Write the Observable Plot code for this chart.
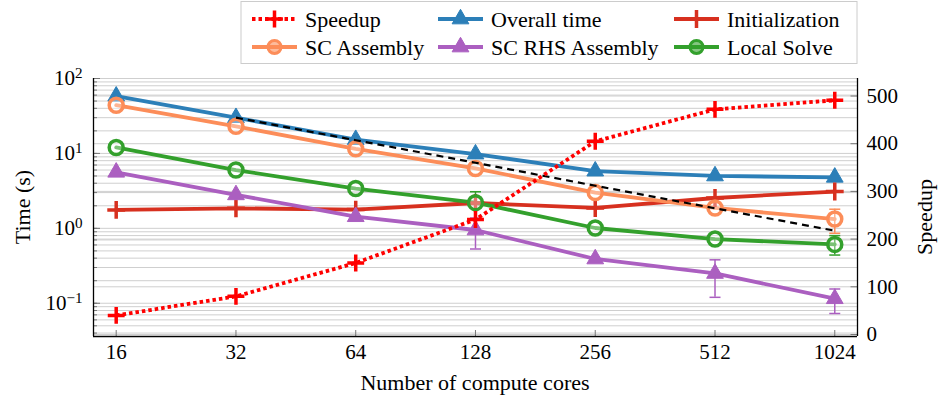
<!DOCTYPE html>
<html><head><meta charset="utf-8">
<script src="https://cdn.jsdelivr.net/npm/d3@7"></script>
<script src="https://cdn.jsdelivr.net/npm/@observablehq/plot@0.6"></script>
<style>body{margin:0;background:#fff} #chart svg, #chart svg text{font-family:"Liberation Serif","Times New Roman",serif !important}</style>
</head><body><div id="chart"></div>
<script>
// ---- data ----
const cores = [16, 32, 64, 128, 256, 512, 1024];
const speedup = [40, 80, 150, 241, 405, 472, 491];
const overallTime = [58, 30, 15.3, 9.8, 5.8, 5.0, 4.8];
const initialization = [1.76, 1.85, 1.78, 2.18, 1.87, 2.54, 3.1];
const scAssembly = [44, 23, 11.5, 6.3, 3.0, 1.87, 1.33];
const scRhsAssembly = [5.6, 2.8, 1.43, 0.95, 0.39, 0.25, 0.115];
const localSolve = [12.0, 6.0, 3.4, 2.2, 1.01, 0.72, 0.61];
const idealCores = [32, 64, 128, 256, 512, 1024];
const idealTime = [30, 15, 7.5, 3.7, 1.85, 0.93];
const errSeries = ["SC Assembly", "SC RHS Assembly", "SC RHS Assembly", "SC RHS Assembly", "Local Solve", "Local Solve"];
const errCores = [1024, 128, 512, 1024, 128, 1024];
const errLow = [0.86, 0.53, 0.12, 0.073, 1.32, 0.44];
const errHigh = [1.8, 1.37, 0.38, 0.155, 3.08, 0.80];
const timeTicks = [0.1, 1, 10, 100];
const timeTickLabels = ["10^-1", "10^0", "10^1", "10^2"];
const speedTicks = [0, 100, 200, 300, 400, 500];
const xDomain = [14.03, 1168];
const yDomain = [0.036, 100];
const speedDomain = [-4.2, 536.7];
const FONT = '"Liberation Serif", "Times New Roman", serif';

const series = [
  {name: "Overall time", values: overallTime, color: "#2c7fb8", symbol: "triangle2", r: 8},
  {name: "Initialization", values: initialization, color: "#d7301f", symbol: "plus", r: 5.8},
  {name: "SC Assembly", values: scAssembly, color: "#fc8d59", symbol: "circle", r: 7},
  {name: "SC RHS Assembly", values: scRhsAssembly, color: "#ab5fc0", symbol: "triangle2", r: 8},
  {name: "Local Solve", values: localSolve, color: "#33a02c", symbol: "circle", r: 7}
];
const colorOf = Object.fromEntries(series.map(s => [s.name, s.color]));

// map speedup (right linear axis) onto the log time scale
const L0 = Math.log10(yDomain[0]), L1 = Math.log10(yDomain[1]);
const toY = s => Math.pow(10, L0 + (s - speedDomain[0]) / (speedDomain[1] - speedDomain[0]) * (L1 - L0));

const speedRows = cores.map((c, i) => ({cores: c, value: toY(speedup[i])}));
const idealRows = idealCores.map((c, i) => ({cores: c, value: idealTime[i]}));
const errRows = errCores.map((c, i) => ({cores: c, low: errLow[i], high: errHigh[i], series: errSeries[i]}));
const speedTickRows = speedTicks.map(s => ({s, y: toY(s)}));

const minorGrid = [];
for (let k = -2; k <= 1; k++) for (let m = 1; m <= 9; m++) {
  const v = m * Math.pow(10, k);
  if (v >= yDomain[0] && v <= yDomain[1]) minorGrid.push(v);
}
minorGrid.push(100);

const hline = {draw(ctx, size) { const r = Math.sqrt(size / Math.PI); ctx.moveTo(-r, 0); ctx.lineTo(r, 0); }};
const leftTick = {draw(ctx) { ctx.moveTo(0, 0); ctx.lineTo(-7, 0); }};

const marks = [
  Plot.ruleY(minorGrid, {stroke: "#cfcfcf", strokeWidth: 1}),
  Plot.ruleY(speedTickRows, {y: "y", stroke: "#cfcfcf", strokeWidth: 1}),
  // ticks (inward)
  Plot.axisY({anchor: "left", ticks: minorGrid, tickSize: -4, tickFormat: () => "", stroke: "#777", label: null}),
  Plot.axisY({anchor: "left", ticks: timeTicks, tickSize: -7, tickFormat: () => "", stroke: "#777", label: null}),
  Plot.dot(speedTickRows, {x: () => xDomain[1], y: "y", symbol: leftTick, stroke: "#777", strokeWidth: 1}),
  Plot.axisX({ticks: cores, tickSize: -6, tickFormat: () => "", stroke: "#777", label: null}),
  // tick labels
  Plot.axisY({anchor: "left", ticks: timeTicks, tickSize: 0, tickPadding: 11,
    tickFormat: d => timeTickLabels[timeTicks.indexOf(d)], label: null, fontSize: 21}),
  Plot.text(speedTickRows, {y: "y", text: d => String(d.s), frameAnchor: "right", dx: 9, textAnchor: "start", fontSize: 21, fill: "black"}),
  Plot.axisX({ticks: cores, tickSize: 0, tickPadding: 8, tickFormat: d => String(d), label: null, fontSize: 21}),
  // frame
  Plot.ruleX([xDomain[0], xDomain[1]], {stroke: "black", strokeWidth: 1.3}),
  Plot.ruleY([yDomain[0]], {stroke: "black", strokeWidth: 1.3})
];

for (const s of series) {
  const rows = cores.map((c, i) => ({cores: c, value: s.values[i]}));
  marks.push(Plot.line(rows, {x: "cores", y: "value", stroke: s.color, strokeWidth: 3.8}));
}
// error bars
marks.push(Plot.ruleX(errRows, {x: "cores", y1: "low", y2: "high", stroke: d => colorOf[d.series], strokeWidth: 1.5}));
marks.push(Plot.dot(errRows, {x: "cores", y: "low", symbol: hline, r: 5.5, stroke: d => colorOf[d.series], strokeWidth: 1.5}));
marks.push(Plot.dot(errRows, {x: "cores", y: "high", symbol: hline, r: 5.5, stroke: d => colorOf[d.series], strokeWidth: 1.5}));
for (const s of series) {
  const rows = cores.map((c, i) => ({cores: c, value: s.values[i]}));
  if (s.symbol === "circle") {
    marks.push(Plot.dot(rows, {x: "cores", y: "value", symbol: "circle", r: s.r, fill: "white", fillOpacity: 0.35, stroke: s.color, strokeWidth: 3.5}));
  } else if (s.symbol === "plus") {
    marks.push(Plot.dot(rows, {x: "cores", y: "value", symbol: "plus", r: s.r, stroke: s.color, strokeWidth: 3.5}));
  } else {
    marks.push(Plot.dot(rows, {x: "cores", y: "value", symbol: "triangle2", r: s.r, fill: s.color, stroke: s.color, strokeWidth: 1}));
  }
}
marks.push(Plot.line(idealRows, {x: "cores", y: "value", stroke: "black", strokeWidth: 2.2, strokeDasharray: "7,5", strokeLinecap: "butt"}));
marks.push(Plot.line(speedRows, {x: "cores", y: "value", stroke: "#ff0000", strokeWidth: 3.8, strokeDasharray: "3.5,3", strokeLinecap: "butt"}));
marks.push(Plot.dot(speedRows, {x: "cores", y: "value", symbol: "plus", r: 5.5, stroke: "#ff0000", strokeWidth: 3.5}));

const chart = Plot.plot({
  width: 939, height: 402,
  marginLeft: 93, marginRight: 82, marginTop: 78, marginBottom: 66,
  style: {fontFamily: FONT, fontSize: "21px", background: "white", color: "black"},
  x: {type: "log", base: 2, domain: xDomain, axis: null},
  y: {type: "log", domain: yDomain, axis: null},
  marks
});
document.getElementById("chart").appendChild(chart);

const svg = d3.select(chart);
// superscripts for 10^k labels
svg.selectAll("text").each(function() {
  const t = this.textContent;
  const m = /^10\^(-?\d+)$/.exec(t);
  if (m) {
    const sel = d3.select(this);
    sel.text("10");
    sel.append("tspan").attr("dy", "-0.48em").attr("font-size", "0.72em").text(m[1].replace("-", "\u2212"));
  }
});

// axis titles
const titles = svg.append("g").attr("font-family", FONT).attr("font-size", 22).attr("fill", "black").attr("text-anchor", "middle");
titles.append("text").attr("transform", "translate(22,207) rotate(-90)").attr("dy", "0.35em").text("Time (s)");
titles.append("text").attr("transform", "translate(924,217) rotate(-90)").attr("dy", "0.35em").text("Speedup");
titles.append("text").attr("transform", "translate(475,382)").attr("dy", "0.35em").text("Number of compute cores");

// legend
const legendItems = [
  {name: "Speedup", color: "#ff0000", symbol: d3.symbolPlus, r: 5.5, dash: "3.5,3", fill: "none", sw: 3.5},
  {name: "Overall time", color: "#2c7fb8", symbol: d3.symbolTriangle2, r: 8, dash: null, fill: "#2c7fb8", sw: 1},
  {name: "Initialization", color: "#d7301f", symbol: d3.symbolPlus, r: 5.8, dash: null, fill: "none", sw: 3.5},
  {name: "SC Assembly", color: "#fc8d59", symbol: d3.symbolCircle, r: 6.5, dash: null, fill: "white", sw: 3},
  {name: "SC RHS Assembly", color: "#ab5fc0", symbol: d3.symbolTriangle2, r: 8, dash: null, fill: "#ab5fc0", sw: 1},
  {name: "Local Solve", color: "#33a02c", symbol: d3.symbolCircle, r: 6.5, dash: null, fill: "white", sw: 3}
];
const colX = [252, 438, 674], rowY = [19, 47];
const lg = svg.append("g").attr("text-anchor", "start").attr("font-family", FONT);
lg.append("rect").attr("x", 241).attr("y", 1.5).attr("width", 616).attr("height", 62)
  .attr("fill", "white").attr("stroke", "#cccccc").attr("stroke-width", 1);
legendItems.forEach((it, i) => {
  const x = colX[i % 3], y = rowY[Math.floor(i / 3)];
  const g = lg.append("g").attr("transform", `translate(${x},${y})`);
  g.append("line").attr("x1", 0).attr("x2", 45).attr("stroke", it.color).attr("stroke-width", 3.8)
    .attr("stroke-dasharray", it.dash);
  g.append("path").attr("transform", "translate(22.5,0)")
    .attr("d", d3.symbol(it.symbol, Math.PI * it.r * it.r)())
    .attr("fill", it.fill === "white" ? it.color : it.fill).attr("fill-opacity", it.fill === "white" ? 0.6 : 1)
    .attr("stroke", it.color).attr("stroke-width", it.sw);
  g.append("text").attr("x", 53).attr("y", 0).attr("dy", "0.35em").attr("text-anchor", "start")
    .attr("font-size", 22).attr("fill", "black").text(it.name);
});
</script></body></html>
